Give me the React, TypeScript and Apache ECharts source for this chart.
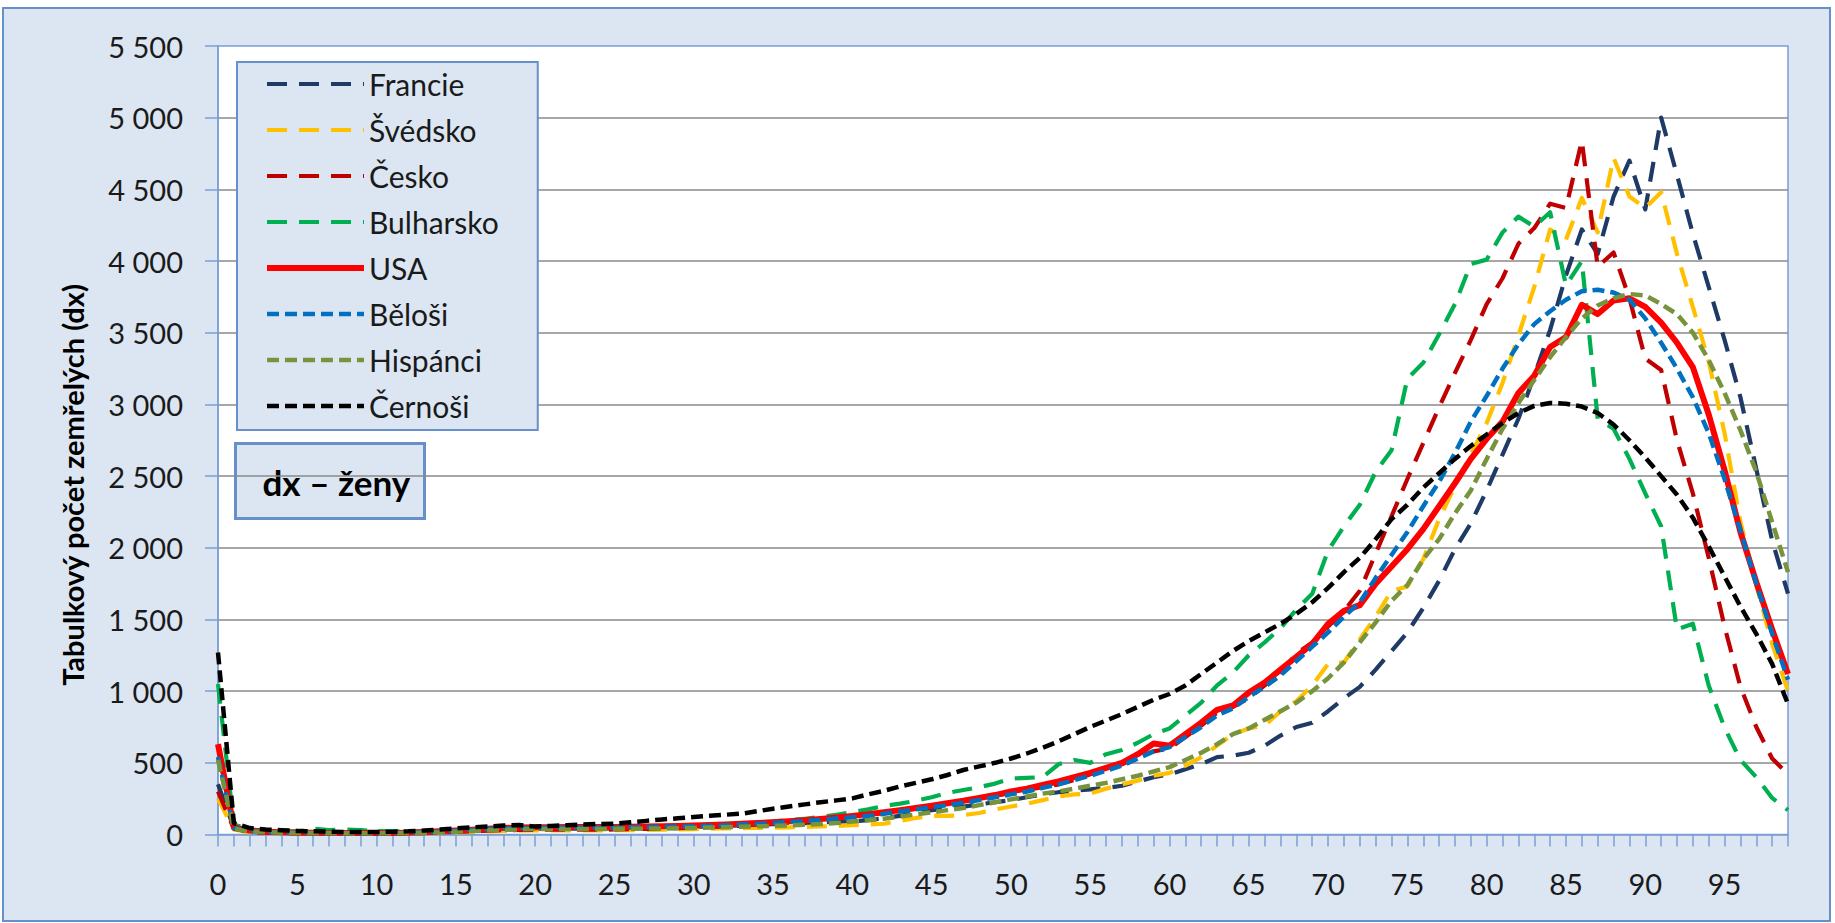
import React, { useEffect, useRef } from "react";
import * as echarts from "echarts";

// ---- DATA ----
const ages: string[] = Array.from({ length: 100 }, (_, i) => String(i));

const seriesNames = ["Francie", "Švédsko", "Česko", "Bulharsko", "USA", "Běloši", "Hispánci", "Černoši"];

const francie = [
  350, 45, 25, 18, 14, 12, 10, 10, 9, 9,
  9, 10, 11, 13, 16, 20, 25, 30, 35, 38,
  40, 40, 40, 40, 40, 42, 44, 46, 48, 50,
  53, 56, 60, 64, 68, 72, 76, 80, 84, 88,
  92, 100, 115, 130, 150, 170, 180, 195, 210, 225,
  240, 260, 280, 295, 305, 315, 325, 340, 370, 400,
  420, 455, 490, 540, 550, 570, 620, 690, 750, 780,
  860, 950, 1030, 1150, 1280, 1410, 1580, 1770, 1990, 2170,
  2400, 2650, 2900, 3200, 3520, 3900, 4220, 4050, 4450, 4700,
  4360, 5000, 4600, 4190, 3820, 3450, 3050, 2550, 2050, 1680,
];

const svedsko = [
  250, 35, 15, 12, 10, 8, 8, 7, 7, 7,
  7, 8, 9, 10, 12, 15, 18, 22, 25, 27,
  28, 28, 28, 28, 28, 30, 30, 32, 34, 36,
  38, 40, 42, 44, 46, 48, 50, 53, 56, 60,
  65, 70, 75, 95, 115, 130, 130, 135, 150, 175,
  195, 215, 240, 265, 280, 285, 320, 350, 375, 410,
  430, 480, 540, 620, 700, 740, 760, 860, 930, 1040,
  1190, 1200, 1360, 1520, 1700, 1730, 1920, 2200, 2430, 2650,
  2870, 3150, 3480, 3820, 4220, 4150, 4440, 4200, 4720, 4450,
  4370, 4480, 4050, 3680, 3300, 2800, 2180, 1740, 1330, 1000,
];

const cesko = [
  300, 40, 18, 12, 10, 8, 7, 7, 6, 6,
  6, 7, 8, 10, 13, 18, 22, 27, 30, 32,
  33, 33, 33, 33, 34, 35, 37, 39, 42, 45,
  48, 52, 56, 62, 68, 75, 82, 90, 100, 112,
  125, 138, 150, 165, 180, 200, 215, 235, 255, 270,
  290, 310, 330, 350, 380, 420, 450, 490, 540, 580,
  600, 680, 760, 850, 890, 950, 1040, 1130, 1260, 1340,
  1450, 1560, 1700, 1960, 2220, 2480, 2730, 2980, 3220, 3450,
  3700, 3880, 4120, 4230, 4400, 4370, 4840, 3960, 4060, 3740,
  3320, 3240, 2750, 2380, 1930, 1450, 1030, 750, 530, 420,
];

const bulharsko = [
  1050, 70, 35, 25, 22, 20, 40, 30, 35, 30,
  25, 22, 20, 22, 25, 30, 35, 40, 45, 48,
  50, 50, 50, 50, 50, 52, 54, 56, 58, 60,
  62, 66, 70, 75, 82, 90, 100, 110, 122, 138,
  155, 175, 200, 215, 235, 260, 290, 310, 330, 355,
  390, 395, 400, 490, 520, 500, 560, 590, 640, 700,
  740, 830, 920, 1040, 1130, 1250, 1340, 1440, 1570, 1680,
  1980, 2150, 2300, 2530, 2680, 3180, 3290, 3490, 3700, 3980,
  4010, 4200, 4310, 4240, 4340, 3830, 4000, 2900, 2830, 2620,
  2380, 2150, 1430, 1470, 1040, 745, 520, 400, 255, 170,
];

const usa = [
  630, 50, 28, 20, 16, 14, 12, 11, 10, 10,
  10, 11, 13, 17, 22, 28, 34, 40, 45, 48,
  50, 51, 52, 52, 52, 53, 54, 56, 58, 60,
  63, 66, 70, 75, 80, 86, 93, 100, 108, 118,
  130, 142, 155, 170, 185, 200, 218, 235, 255, 275,
  300, 320, 345, 370, 400, 430, 465, 500, 560, 635,
  620, 700, 780, 870, 900, 990, 1060, 1150, 1240, 1330,
  1470, 1560, 1600, 1750, 1870, 1990, 2130, 2290, 2450, 2620,
  2760, 2880, 3080, 3200, 3400, 3470, 3695, 3630, 3725, 3740,
  3680, 3570, 3430, 3260, 2930, 2540, 2110, 1760, 1430, 1120,
];

const belosi = [
  540, 45, 25, 18, 15, 13, 11, 10, 10, 9,
  9, 10, 12, 16, 21, 27, 33, 38, 42, 45,
  47, 48, 48, 48, 48, 49, 50, 52, 54, 56,
  58, 61, 65, 70, 75, 80, 87, 94, 102, 111,
  120, 130, 145, 160, 175, 190, 205, 222, 240, 260,
  280, 300, 325, 350, 380, 410, 445, 480, 530, 580,
  610, 680, 750, 830, 880, 960, 1030, 1110, 1210, 1310,
  1410, 1520, 1620, 1790, 1950, 2110, 2290, 2460, 2660, 2880,
  3060, 3250, 3420, 3560, 3650, 3730, 3790, 3800, 3780, 3730,
  3600, 3430, 3250, 3050, 2800, 2480, 2120, 1750, 1400, 1080,
];

const hispanci = [
  520, 40, 22, 16, 13, 11, 10, 9, 9, 8,
  8, 9, 10, 12, 16, 20, 25, 30, 33, 36,
  38, 38, 38, 38, 38, 39, 40, 41, 42, 44,
  46, 48, 51, 54, 57, 60, 64, 68, 73, 80,
  90, 100, 110, 125, 140, 155, 170, 185, 205, 225,
  245, 265, 285, 300, 320, 340, 360, 385, 410, 440,
  470, 520, 570, 630, 700, 740, 800, 860, 920, 1000,
  1090, 1200, 1340, 1480, 1630, 1740, 1920, 2060, 2240, 2400,
  2620, 2830, 3010, 3170, 3330, 3470, 3600, 3690, 3740, 3770,
  3760, 3700, 3630, 3500, 3310, 3080, 2820, 2530, 2180, 1830,
];

const cernosi = [
  1270, 80, 45, 35, 30, 25, 22, 20, 18, 18,
  18, 20, 22, 28, 35, 42, 50, 56, 62, 66,
  55, 60, 65, 70, 73, 76, 85, 95, 105, 113,
  122, 130, 138, 145, 162, 180, 195, 210, 225, 238,
  252, 280, 305, 335, 360, 385, 415, 450, 475, 500,
  530, 565, 605, 650, 700, 750, 795, 840, 890, 940,
  980, 1040, 1120, 1200, 1280, 1350, 1410, 1470, 1540, 1620,
  1720, 1830, 1930, 2060, 2200, 2300, 2420, 2520, 2620, 2710,
  2790, 2870, 2940, 2990, 3010, 3005, 2985, 2940, 2860, 2750,
  2630, 2500, 2370, 2210, 2010, 1800, 1590, 1400, 1190, 910,
];

const seriesData = [francie, svedsko, cesko, bulharsko, usa, belosi, hispanci, cernosi];
const seriesColors = ["#1F3A66", "#FFC000", "#C00000", "#00B050", "#FF0000", "#0070C0", "#77933C", "#000000"];

const yMin = 0;
const yMax = 5500;
const yStep = 500;

const axisTitle = "Tabulkový počet zemřelých (dx)";
const boxLabel = "dx – ženy";

// ---- STYLE ----
const longDash = [20, 12];
const shortDash = [12, 6];
const seriesStyles = [
  { type: longDash, width: 4.2 },
  { type: longDash, width: 4.2 },
  { type: longDash, width: 4.2 },
  { type: longDash, width: 4.2 },
  { type: "solid", width: 6 },
  { type: shortDash, width: 4.5 },
  { type: shortDash, width: 4.5 },
  { type: shortDash, width: 4.5 },
];

const BG = "#DCE6F2";
const FRAME = "#6790CB";
const AXIS = "#7B9FD4";
const GRIDLINE = "#8A8A8A";
const FONT = "Lato";

function fmt(v: number): string {
  if (v >= 1000) {
    const th = Math.floor(v / 1000);
    const rest = String(v % 1000).padStart(3, "0");
    return `${th} ${rest}`;
  }
  return String(v);
}

export default function App() {
  const ref = useRef<HTMLDivElement>(null);

  useEffect(() => {
    document.body.style.margin = "0";
    if (!ref.current) return;
    const chart = echarts.init(ref.current, undefined, { renderer: "svg" });
    const option: any = {
      animation: false,
      textStyle: { fontFamily: FONT },
      grid: {
        left: 218,
        right: 47,
        top: 46,
        bottom: 88.5,
        show: true,
        backgroundColor: "#FFFFFF",
        borderColor: AXIS,
        borderWidth: 1.5,
      },
      xAxis: {
        type: "category",
        data: ages,
        boundaryGap: false,
        axisLine: { show: true, lineStyle: { color: AXIS, width: 1.5 } },
        axisTick: { show: true, interval: 0, length: 12, lineStyle: { color: AXIS, width: 1.5 } },
        axisLabel: { interval: 4, margin: 34, fontSize: 29, color: "#1A1A1A", fontFamily: FONT },
        splitLine: { show: false },
      },
      yAxis: {
        type: "value",
        min: yMin,
        max: yMax,
        interval: yStep,
        axisLine: { show: true, lineStyle: { color: AXIS, width: 1.5 } },
        axisTick: { show: true, length: 13, lineStyle: { color: AXIS, width: 1.5 } },
        axisLabel: { margin: 35, fontSize: 29, color: "#1A1A1A", fontFamily: FONT, formatter: (v: number) => fmt(v) },
        splitLine: { show: true, showMinLine: false, showMaxLine: false, lineStyle: { color: GRIDLINE, width: 1.5 } },
      },
      legend: {
        orient: "vertical",
        left: 237,
        top: 62,
        padding: [4, 39, 6, 27],
        itemWidth: 97,
        itemHeight: 14,
        itemGap: 10,
        backgroundColor: BG,
        borderColor: FRAME,
        borderWidth: 2,
        itemStyle: { opacity: 0 },
        lineStyle: { width: "inherit", type: "inherit" },
        textStyle: { fontSize: 30, color: "#1A1A1A", fontFamily: FONT, lineHeight: 36 },
        data: seriesNames,
      },
      graphic: [
        {
          type: "text",
          x: 72,
          y: 485,
          rotation: Math.PI / 2,
          style: {
            text: axisTitle,
            fontSize: 29,
            fontWeight: "bold",
            fontFamily: FONT,
            fill: "#000000",
            align: "center",
            verticalAlign: "middle",
          },
        },
        {
          type: "group",
          left: 234,
          top: 442,
          children: [
            {
              type: "rect",
              shape: { x: 0, y: 0, width: 189, height: 75 },
              style: { fill: BG, stroke: FRAME, lineWidth: 3 },
            },
            {
              type: "text",
              x: 27,
              y: 38,
              style: {
                text: boxLabel,
                fontSize: 35,
                fontWeight: "bold",
                fontFamily: FONT,
                fill: "#000000",
                verticalAlign: "middle",
                align: "left",
              },
            },
          ],
        },
      ],
      series: seriesNames.map((name, i) => ({
        name,
        type: "line",
        data: seriesData[i],
        symbol: "none",
        smooth: false,
        z: 2 + i,
        itemStyle: { color: seriesColors[i] },
        lineStyle: {
          color: seriesColors[i],
          width: seriesStyles[i].width,
          type: seriesStyles[i].type,
          cap: "butt",
          join: "round",
        },
        emphasis: { disabled: true },
      })),
    };
    chart.setOption(option);
    return () => chart.dispose();
  }, []);

  return (
    <div style={{ position: "relative", width: 1835, height: 923, background: "#FFFFFF", overflow: "hidden" }}>
      <div
        style={{
          position: "absolute",
          left: 2,
          top: 7,
          width: 1829,
          height: 915,
          boxSizing: "border-box",
          background: BG,
          border: `2px solid ${FRAME}`,
        }}
      />
      <div ref={ref} style={{ position: "absolute", left: 0, top: 0, width: 1835, height: 923 }} />
    </div>
  );
}
